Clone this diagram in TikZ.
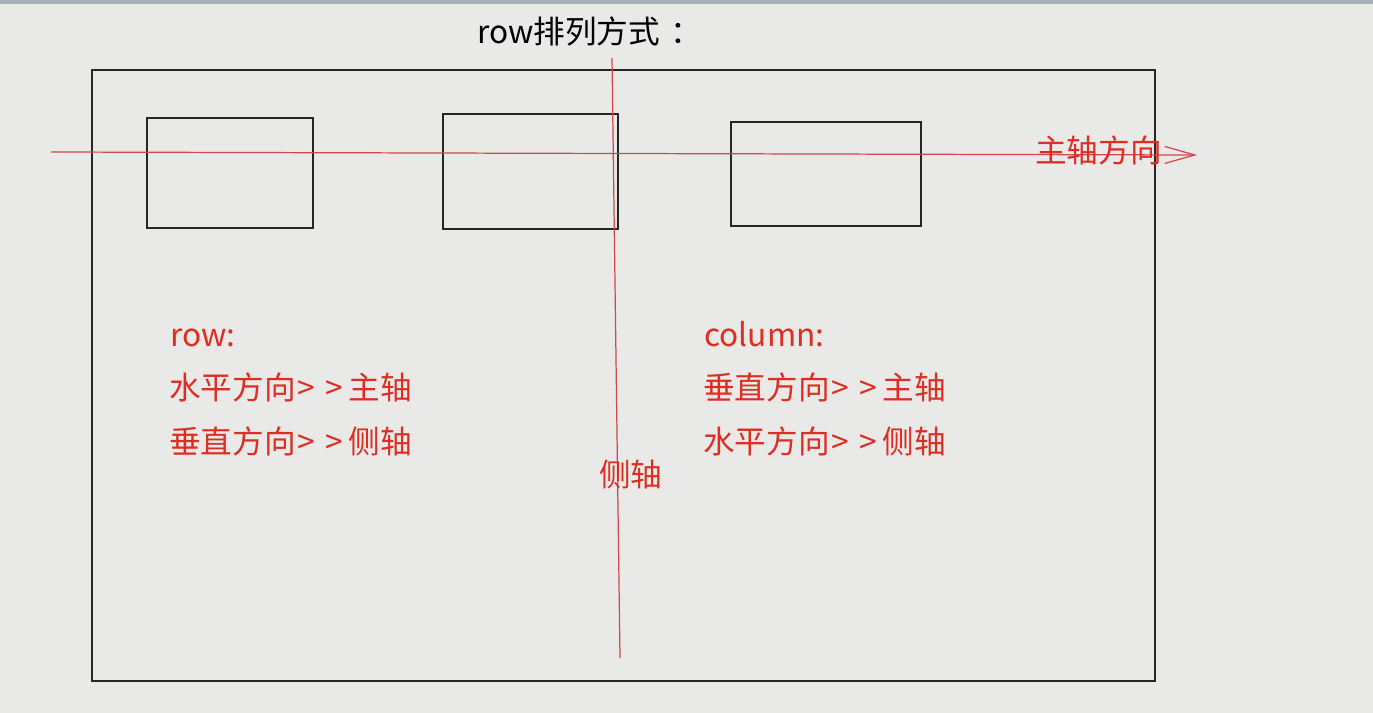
\documentclass[tikz,border=0pt]{standalone}
\usepackage{fontspec}
\setmainfont{Noto Sans CJK SC}
\usetikzlibrary{arrows.meta,positioning}
\definecolor{bg}{HTML}{E9EAE8}
\definecolor{topbar}{HTML}{A8AFBB}
\definecolor{axisred}{HTML}{D0484A}
\definecolor{textred}{HTML}{DC2E22}
\newcommand{\maparrow}{\hspace{1pt}>\hspace{6pt}>\hspace{3pt}}

\begin{document}
\begin{tikzpicture}
[x=0.02cm,y=-0.02cm,
   outline/.style={draw=black!85,line width=0.7pt,inner sep=0},
   axis/.style={draw=axisred,line width=0.7pt},
   label/.style={font=\fontsize{18}{22}\selectfont,inner sep=0,anchor=base west},
   redlabel/.style={label,text=textred}]
% canvas
\fill[bg] (0,0) rectangle (1373,713);
\fill[topbar] (0,0) rectangle (1373,4);
\useasboundingbox (0,0) rectangle (1373,713);

\node[label] (title) at (477,44) {row排列方式\kern6pt：};

% container and items
\node[outline,minimum width=21.26cm,minimum height=12.22cm] (box) at (623.5,375.5) {};
\node[outline,minimum width=3.32cm,minimum height=2.2cm] (item1) at (230,173) {};
\node[outline,minimum width=3.5cm,minimum height=2.3cm] (item2) at (530.5,171.5) {};
\node[outline,minimum width=3.8cm,minimum height=2.08cm] (item3) at (826,174) {};

% axes
\coordinate (mainstart) at (51,152);
\coordinate (mainend) at (1197,155);
\coordinate (crossstart) at (612,58);
\coordinate (crossend) at (620,658);
\draw[axis,-{Straight Barb[length=0.6cm,width=0.34cm]}] (mainstart) -- (mainend);
\draw[axis] (crossstart) -- (crossend);
\node[redlabel] (mainlabel) at (1035,162) {主轴方向};
\node[redlabel] (crosslabel) at (599,486) {侧轴};

% notes
\node[redlabel] (rowhead) at (170,346) {row:};
\node[redlabel] (rowmain) at (169,399) {水平方向\maparrow 主轴};
\node[redlabel] (rowcross) at (169,453) {垂直方向\maparrow 侧轴};
\node[redlabel] (colhead) at (704,346) {column:};
\node[redlabel] (colmain) at (703,399) {垂直方向\maparrow 主轴};
\node[redlabel] (colcross) at (703,453) {水平方向\maparrow 侧轴};
\end{tikzpicture}
\end{document}
